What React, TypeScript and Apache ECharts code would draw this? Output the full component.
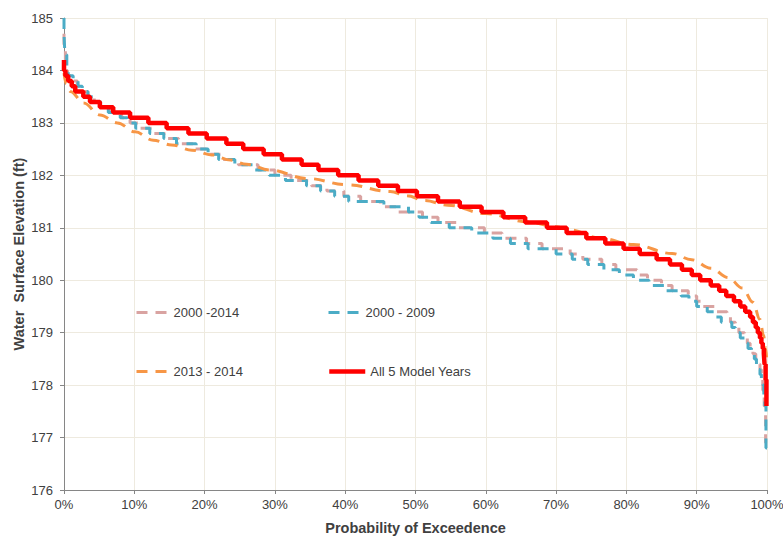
import React, { useEffect, useRef } from "react";
import * as echarts from "echarts";

// Exceedance probability (%) where each level ends, with the level (ft)
const pinkX = [0, 0.2, 0.5, 1.2, 1.9, 2.6, 3.4, 4.3, 5.4, 6.6, 8.2, 9.4, 10.6, 12.5, 14.6, 16.3, 18.5, 20.8, 22.5, 24.8, 27.6, 30.0, 32.3, 35.2, 37.4, 39.8, 42.2, 45.0, 47.5, 51.0, 53.2, 56.0, 59.8, 62.3, 65.8, 68.0, 72.0, 73.8, 76.5, 78.5, 81.5, 83.0, 85.0, 86.5, 88.8, 90.0, 90.8, 92.6, 94.3, 94.8, 95.5, 96.0, 96.8, 97.2, 97.6, 98.0, 98.4, 98.8, 99.0, 99.2, 99.4, 99.6, 99.8, 100];
const pinkY = [184.7, 184.4, 184.0, 183.9, 183.8, 183.7, 183.6, 183.5, 183.4, 183.3, 183.2, 183.1, 183.0, 182.9, 182.8, 182.7, 182.6, 182.5, 182.4, 182.3, 182.2, 182.1, 182.0, 181.9, 181.8, 181.7, 181.6, 181.5, 181.4, 181.3, 181.2, 181.1, 181.0, 180.9, 180.8, 180.7, 180.6, 180.5, 180.4, 180.3, 180.2, 180.1, 180.0, 179.9, 179.8, 179.7, 179.6, 179.5, 179.4, 179.3, 179.2, 179.1, 179.0, 178.9, 178.8, 178.7, 178.6, 178.5, 178.4, 178.3, 178.1, 177.9, 177.6, 176.9];

const blueX = [0, 0.1, 0.2, 0.4, 0.6, 1.3, 2.0, 2.6, 3.4, 4.2, 5.2, 6.3, 8.0, 9.0, 10.2, 12.2, 14.2, 16.0, 18.8, 20.5, 22.0, 24.3, 27.0, 29.2, 31.5, 34.5, 36.5, 38.5, 40.5, 43.0, 45.5, 49.0, 50.5, 52.2, 54.8, 58.0, 61.0, 63.5, 66.0, 70.0, 72.3, 74.5, 76.8, 79.0, 81.0, 83.2, 85.5, 87.8, 88.9, 90.0, 91.5, 92.5, 93.5, 95.0, 95.5, 96.2, 96.8, 97.3, 97.8, 98.2, 98.5, 98.8, 99.0, 99.2, 99.4, 99.55, 99.7, 99.85, 100];
const blueY = [185.0, 184.7, 184.4, 184.3, 184.0, 183.9, 183.8, 183.7, 183.6, 183.5, 183.4, 183.3, 183.2, 183.1, 183.0, 182.9, 182.8, 182.7, 182.6, 182.5, 182.4, 182.3, 182.2, 182.1, 182.0, 181.9, 181.8, 181.7, 181.6, 181.5, 181.5, 181.4, 181.3, 181.2, 181.1, 181.0, 180.9, 180.8, 180.7, 180.6, 180.5, 180.4, 180.3, 180.2, 180.1, 180.0, 179.9, 179.8, 179.7, 179.6, 179.5, 179.4, 179.3, 179.2, 179.1, 179.0, 178.9, 178.8, 178.7, 178.6, 178.5, 178.4, 178.3, 178.2, 178.1, 178.0, 177.8, 177.6, 176.8];

const orangeX = [0, 0.3, 0.9, 2.8, 5.1, 7.6, 10.1, 12.7, 15.3, 18.2, 21.0, 23.7, 26.0, 29.3, 34.6, 40.3, 46.4, 48.8, 51.3, 54.6, 60.0, 66.0, 70.0, 72.0, 76.3, 81.0, 86.5, 89.3, 92.0, 94.5, 96.5, 98.0, 99.0, 99.5, 99.8, 100];
const orangeY = [183.95, 183.75, 183.6, 183.38, 183.15, 183.0, 182.83, 182.67, 182.58, 182.48, 182.39, 182.29, 182.21, 182.1, 181.94, 181.82, 181.69, 181.61, 181.52, 181.43, 181.27, 181.11, 181.02, 180.96, 180.8, 180.68, 180.51, 180.39, 180.23, 180.05, 179.85, 179.58, 179.25, 178.95, 178.7, 178.4];

const redX = [0, 0.2, 0.6, 1.1, 1.6, 2.75, 3.7, 5.1, 7.0, 9.4, 12.0, 14.6, 17.7, 20.3, 23.1, 25.5, 28.4, 31.0, 33.8, 36.2, 39.0, 41.9, 44.7, 47.5, 50.2, 53.2, 56.3, 59.4, 62.5, 65.6, 68.7, 71.5, 74.3, 77.0, 79.6, 81.9, 84.3, 86.2, 87.9, 89.3, 90.5, 92.0, 93.2, 94.2, 95.3, 96.2, 96.9, 97.6, 98.0, 98.4, 98.7, 99.0, 99.2, 99.4, 99.55, 99.65, 99.8, 99.92, 100];
const redY = [184.2, 184.0, 183.9, 183.8, 183.7, 183.6, 183.5, 183.4, 183.3, 183.2, 183.1, 183.0, 182.9, 182.8, 182.7, 182.6, 182.5, 182.4, 182.3, 182.2, 182.1, 182.0, 181.9, 181.8, 181.7, 181.6, 181.5, 181.4, 181.3, 181.2, 181.1, 181.0, 180.9, 180.8, 180.7, 180.6, 180.5, 180.4, 180.3, 180.2, 180.1, 180.0, 179.9, 179.8, 179.7, 179.6, 179.5, 179.4, 179.3, 179.2, 179.1, 179.0, 178.9, 178.8, 178.7, 178.6, 178.4, 178.1, 177.6];

const seriesNames = ["2000 -2014", "2000 - 2009", "2013 - 2014", "All 5 Model Years"];
const xTicks = [0, 10, 20, 30, 40, 50, 60, 70, 80, 90, 100];

const zip = (xs: number[], ys: number[]) => xs.map((x, i) => [x, ys[i]]);

export default function App() {
  const ref = useRef<HTMLDivElement>(null);
  useEffect(() => {
    if (!ref.current) return;
    const chart = echarts.init(ref.current, undefined, { renderer: "svg" });
    const font = "Liberation Sans, Arial, sans-serif";
    const gridColor = "#eeeadf";
    const axisColor = "#868686";
    const legendBase = {
      padding: 0,
      itemWidth: 32,
      itemHeight: 14,
      itemGap: 0,
      itemStyle: { opacity: 0, borderWidth: 0 },
      textStyle: { fontFamily: font, fontSize: 13, color: "#404040" },
      selectedMode: false,
    };
    const dashedLegendLine = { width: 3, type: [11, 8] };
    chart.setOption({
      animation: false,
      backgroundColor: "#ffffff",
      grid: { left: 64, right: 16, top: 18, bottom: 48, containLabel: false, outerBoundsMode: "none" },
      xAxis: {
        type: "value",
        min: 0,
        max: 100,
        interval: 10,
        name: "Probability of Exceedence",
        nameLocation: "middle",
        nameGap: 30,
        nameTextStyle: { fontFamily: font, fontSize: 14.5, fontWeight: "bold", color: "#404040" },
        axisLine: { show: true, onZero: false, lineStyle: { color: axisColor, width: 1 } },
        axisTick: { show: true, length: 4, lineStyle: { color: axisColor } },
        axisLabel: {
          margin: 8,
          fontFamily: font,
          fontSize: 13,
          color: "#404040",
          formatter: (v: number) => (xTicks.includes(v) ? v + "%" : ""),
        },
        splitLine: { show: true, lineStyle: { color: gridColor, width: 1 } },
      },
      yAxis: {
        type: "value",
        min: 176,
        max: 185,
        interval: 1,
        name: "Water  Surface Elevation (ft)",
        nameLocation: "middle",
        nameGap: 38,
        nameMoveOverlap: false,
        nameTextStyle: { fontFamily: font, fontSize: 14.5, fontWeight: "bold", color: "#404040" },
        axisLine: { show: true, lineStyle: { color: axisColor, width: 1 } },
        axisTick: { show: true, length: 4, lineStyle: { color: axisColor } },
        axisLabel: { margin: 11, fontFamily: font, fontSize: 13, color: "#404040" },
        splitLine: { show: true, lineStyle: { color: gridColor, width: 1 } },
      },
      legend: [
        { ...legendBase, lineStyle: dashedLegendLine, data: [seriesNames[0]], left: 135, top: 306 },
        { ...legendBase, lineStyle: dashedLegendLine, data: [seriesNames[1]], left: 327, top: 306 },
        { ...legendBase, lineStyle: dashedLegendLine, data: [seriesNames[2]], left: 135, top: 365 },
        { ...legendBase, itemWidth: 36, lineStyle: { width: 4.5 }, data: [seriesNames[3]], left: 327, top: 365 },
      ],
      series: [
        {
          name: seriesNames[0],
          type: "line",
          step: "start",
          showSymbol: false,
          symbol: "none",
          data: zip(pinkX, pinkY),
          lineStyle: { color: "#d9a3a1", width: 3, type: [11, 8] },
          itemStyle: { color: "#d9a3a1" },
        },
        {
          name: seriesNames[1],
          type: "line",
          step: "start",
          showSymbol: false,
          symbol: "none",
          data: zip(blueX, blueY),
          lineStyle: { color: "#4bacc6", width: 3, type: [11, 8] },
          itemStyle: { color: "#4bacc6" },
        },
        {
          name: seriesNames[2],
          type: "line",
          smooth: 0.4,
          smoothMonotone: "x",
          showSymbol: false,
          symbol: "none",
          data: zip(orangeX, orangeY),
          lineStyle: { color: "#f79646", width: 3, type: [11, 8] },
          itemStyle: { color: "#f79646" },
        },
        {
          name: seriesNames[3],
          type: "line",
          step: "start",
          showSymbol: false,
          symbol: "none",
          data: zip(redX, redY),
          lineStyle: { color: "#ff0000", width: 4.5 },
          itemStyle: { color: "#ff0000" },
        },
      ],
    });
    return () => chart.dispose();
  }, []);
  return <div ref={ref} style={{ width: 783, height: 538, position: "absolute", left: 0, top: 0 }} />;
}
